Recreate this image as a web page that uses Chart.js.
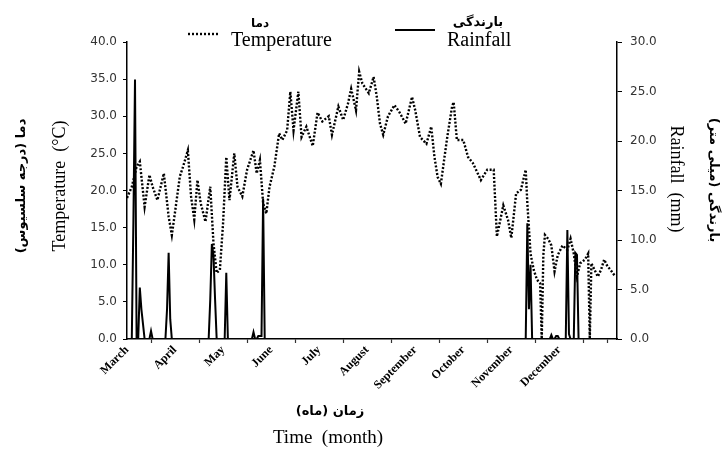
<!DOCTYPE html>
<html>
<head>
<meta charset="utf-8">
<script src="https://cdn.jsdelivr.net/npm/chart.js@4"></script>
<style>
    body { margin: 0; background: #fff; }
    #wrap { width: 727px; height: 450px; }
</style>
</head>
<body>
<div id="wrap"><canvas id="climateChart" width="727" height="450"></canvas></div>
<script>
// ============================================
// DATA (day 0 = 1 March, daily to end of December)
// ============================================

const totalDays = 306;
const months = ['March', 'April', 'May', 'June', 'July', 'August', 'September', 'October', 'November', 'December'];
const monthLabelDays = [0, 30, 60, 90, 120, 150, 180, 210, 240, 270];
const tickMarkDays = [15, 45, 75, 105, 135, 165, 195, 225, 255, 285, 300];

const tempTicks = [0, 5, 10, 15, 20, 25, 30, 35, 40];
const rainTicks = [0, 5, 10, 15, 20, 25, 30];

// temperature (°C)
const tempDays = [0, 3, 6, 8, 11, 14, 16, 19, 23, 26, 28, 30, 33, 35, 38, 40, 42, 44, 46, 49,
    52, 54, 56, 58, 60, 62, 64, 67, 69, 72, 75, 79, 81, 83, 85, 87, 89, 92, 95, 97,
    100, 102, 104, 107, 109, 112, 116, 119, 122, 126, 128, 132, 135, 138, 140, 143, 145, 147, 151, 154,
    156, 158, 160, 163, 167, 170, 174, 178, 180, 183, 187, 190, 192, 194, 196, 200, 203, 204, 206, 210,
    213, 216, 221, 225, 229, 231, 235, 238, 240, 243, 246, 249, 250, 252, 254, 256, 258, 259, 260, 261,
    263, 265, 267, 269, 272, 275, 277, 279, 281, 283, 286, 288, 289, 290, 294, 296, 298, 300, 302, 305];
const tempC = [19.0, 20.5, 23.2, 23.9, 17.8, 22.1, 20.5, 18.7, 22.3, 16.5, 14.0, 17.1, 21.9, 23.2, 25.4, 19.2, 16.1, 21.4, 18.3, 15.8,
    20.5, 12.9, 8.9, 9.3, 15.6, 24.5, 18.7, 25.0, 20.5, 19.2, 22.8, 25.4, 22.3, 24.1, 18.3, 16.9, 20.5, 23.2, 27.7, 26.8,
    28.1, 33.3, 28.1, 33.3, 27.2, 28.6, 26.0, 30.5, 29.3, 30.0, 27.5, 31.3, 29.5, 31.7, 33.7, 30.8, 36.0, 34.4, 33.1, 35.3,
    32.6, 29.0, 27.5, 30.0, 31.5, 30.6, 29.0, 32.6, 30.8, 27.2, 26.3, 28.6, 24.5, 21.8, 20.9, 27.2, 31.3, 31.9, 26.8, 26.8,
    24.5, 23.7, 21.4, 22.8, 22.8, 13.8, 18.0, 16.0, 13.6, 19.6, 20.1, 22.8, 18.3, 11.5, 9.3, 8.0, 7.5, 0, 11.3, 14.0,
    13.5, 12.6, 9.1, 11.3, 12.6, 12.0, 13.5, 11.5, 8.4, 10.2, 10.7, 11.5, 0, 10.2, 8.4, 9.3, 10.7, 9.8, 9.3, 8.4];

// rainfall (mm) on the rainy days, every other day is dry
const rainDays = [4, 5, 8, 9, 10, 15, 25, 26, 27, 52, 53, 54, 55, 62, 79, 82, 83, 84, 85,
    250, 251, 252, 265, 268, 269, 275, 276, 280, 281];
const rainMm = [12, 26.2, 5.2, 3.0, 1.5, 0.8, 3, 8.7, 2, 4, 9.6, 8.5, 4, 6.7, 0.7, 0.3, 0.3, 0.3, 14.2,
    11.7, 3, 7.5, 0.4, 0.3, 0.3, 11.0, 0.5, 8.7, 8.5];

// ============================================
// CHART
// ============================================

const tempPoints = tempDays.map((d, i) => ({ x: d, y: tempC[i] }));
const rainPoints = [];
for (let d = 0; d < totalDays; d++) {
    const k = rainDays.indexOf(d);
    rainPoints.push({ x: d, y: k >= 0 ? rainMm[k] : 0 });
}

const serif = "'Liberation Serif', 'Times New Roman', serif";
const persian = "'DejaVu Sans', sans-serif";

function drawRotated(c, text, x, y, angle, font, rtl) {
    c.save();
    c.translate(x, y);
    c.rotate(angle);
    c.font = font;
    c.direction = rtl ? 'rtl' : 'ltr';
    c.textAlign = 'center';
    c.textBaseline = 'middle';
    c.fillText(text, 0, 0);
    c.restore();
}

// titles and legend are drawn by hand (two languages stacked)
const titlesPlugin = {
    id: 'titles',
    afterDraw(chart) {
        const c = chart.ctx;
        c.save();
        c.fillStyle = '#000';
        c.strokeStyle = '#000';

        // legend - temperature
        c.lineWidth = 2.4;
        c.setLineDash([2, 2]);
        c.beginPath();
        c.moveTo(188, 34);
        c.lineTo(218, 34);
        c.stroke();
        c.setLineDash([]);
        c.font = '20px ' + serif;
        c.textAlign = 'left';
        c.textBaseline = 'alphabetic';
        c.fillText('Temperature', 231, 46);
        drawRotated(c, 'دما', 260, 24, 0, 'bold 12px ' + persian, true);

        // legend - rainfall
        c.lineWidth = 2;
        c.beginPath();
        c.moveTo(395, 30);
        c.lineTo(435, 30);
        c.stroke();
        c.font = '20px ' + serif;
        c.textAlign = 'left';
        c.fillText('Rainfall', 447, 46);
        drawRotated(c, 'بارندگی', 478, 23, 0, 'bold 13px ' + persian, true);

        // axis titles
        drawRotated(c, 'دما (درجه سلسیوس)', 22, 186, -Math.PI / 2, 'bold 13px ' + persian, true);
        drawRotated(c, 'Temperature  (°C)', 60, 186, -Math.PI / 2, '18px ' + serif, false);
        drawRotated(c, 'Rainfall  (mm)', 676, 179, Math.PI / 2, '18px ' + serif, false);
        drawRotated(c, 'بارندگی (میلی متر)', 713, 180, Math.PI / 2, 'bold 13px ' + persian, true);
        drawRotated(c, 'زمان (ماه)', 330, 412, 0, 'bold 13px ' + persian, true);
        drawRotated(c, 'Time  (month)', 328, 438, 0, '19px ' + serif, false);
        c.restore();
    }
};

const ctx = document.getElementById('climateChart');

new Chart(ctx, {
    type: 'line',
    data: {
        datasets: [
            {
                label: 'Rainfall',
                data: rainPoints,
                yAxisID: 'y1',
                borderColor: '#000',
                borderWidth: 2,
                pointRadius: 0,
                tension: 0,
                fill: false
            },
            {
                label: 'Temperature',
                data: tempPoints,
                yAxisID: 'y',
                borderColor: '#000',
                borderWidth: 2.4,
                borderDash: [2, 1.8],
                pointRadius: 0,
                tension: 0,
                fill: false
            }
        ]
    },
    options: {
        responsive: false,
        animation: false,
        events: [],
        layout: { padding: { top: 42, left: 0, right: 0, bottom: 0 } },
        plugins: {
            legend: { display: false },
            tooltip: { enabled: false }
        },
        scales: {
            x: {
                type: 'linear',
                min: 0,
                max: totalDays,
                afterBuildTicks: (scale) => {
                    const all = monthLabelDays.concat(tickMarkDays).sort((a, b) => a - b);
                    scale.ticks = all.map(v => ({ value: v }));
                },
                afterFit: (scale) => { scale.height = 111; },
                border: { color: '#000', width: 1.5 },
                grid: {
                    drawOnChartArea: false,
                    tickLength: 4,
                    tickWidth: 1.2,
                    tickColor: (c) => (c.tick && tickMarkDays.includes(c.tick.value)) ? '#333' : 'rgba(0,0,0,0)'
                },
                ticks: {
                    autoSkip: false,
                    maxRotation: 45,
                    minRotation: 45,
                    padding: 0,
                    color: '#000',
                    font: { family: serif, size: 12, weight: 'bold' },
                    callback: (value) => {
                        const i = monthLabelDays.indexOf(value);
                        return i >= 0 ? months[i] : '';
                    }
                }
            },
            y: {
                position: 'left',
                min: 0,
                max: 40,
                afterBuildTicks: (scale) => { scale.ticks = tempTicks.map(v => ({ value: v })); },
                afterFit: (scale) => { scale.width = 127; },
                border: { color: '#000', width: 1.5 },
                grid: { drawOnChartArea: false, tickLength: 4, tickColor: '#000' },
                ticks: {
                    padding: 6,
                    color: '#333',
                    font: { family: "'DejaVu Sans', sans-serif", size: 12 },
                    callback: (v) => v.toFixed(1)
                }
            },
            y1: {
                position: 'right',
                min: 0,
                max: 30,
                afterBuildTicks: (scale) => { scale.ticks = rainTicks.map(v => ({ value: v })); },
                afterFit: (scale) => { scale.width = 110; },
                border: { color: '#000', width: 1.5 },
                grid: { drawOnChartArea: false, tickLength: 5, tickColor: '#000' },
                ticks: {
                    padding: 8,
                    color: '#333',
                    font: { family: "'DejaVu Sans', sans-serif", size: 12 },
                    callback: (v) => v.toFixed(1)
                }
            }
        }
    },
    plugins: [titlesPlugin]
});
</script>
</body>
</html>
